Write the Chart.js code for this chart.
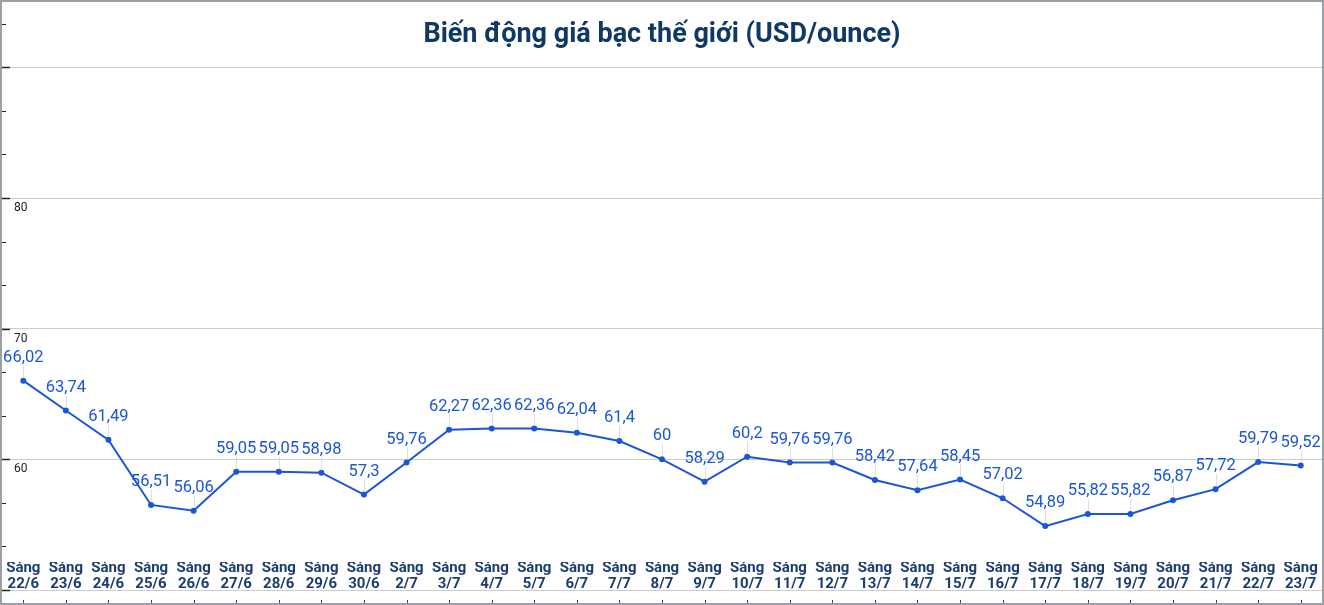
<!DOCTYPE html>
<html>
<head>
<meta charset="utf-8">
<script src="https://cdn.jsdelivr.net/npm/chart.js@4.4.0/dist/chart.umd.min.js"></script>
<style>
  body { margin: 0; background: #fff; }
  #wrap { width: 1320px; height: 601px; border: 2px solid #9aa0a6; background: #fff; }
  canvas { display: block; }
</style>
</head>
<body>
<div id="wrap"><canvas id="myChart" width="1320" height="601"></canvas></div>
<script>
var ngay = ['22/6','23/6','24/6','25/6','26/6','27/6','28/6','29/6','30/6','2/7','3/7','4/7','5/7','6/7','7/7',
            '8/7','9/7','10/7','11/7','12/7','13/7','14/7','15/7','16/7','17/7','18/7','19/7','20/7','21/7','22/7','23/7'];
var giaBac = [66.02,63.74,61.49,56.51,56.06,59.05,59.05,58.98,57.3,59.76,62.27,62.36,62.36,62.04,61.4,
              60,58.29,60.2,59.76,59.76,58.42,57.64,58.45,57.02,54.89,55.82,55.82,56.87,57.72,59.79,59.52];
var yNhan = [60,70,80];
var tieuDe = 'Biến động giá bạc thế giới (USD/ounce)';

var xanh = '#1a56d6';

function laChuc(v){
    return Math.abs(v/10 - Math.round(v/10)) < 1e-6;
}

var veThem = {
    id: 'veThem',
    afterDatasetsDraw: function(chart){
        var ctx = chart.ctx;
        var meta = chart.getDatasetMeta(0);
        ctx.save();
        // nhan gia tri
        ctx.font = '16.5px Roboto';
        ctx.textAlign = 'center';
        ctx.textBaseline = 'middle';
        meta.data.forEach(function(p, i){
            ctx.strokeStyle = '#dedede';
            ctx.lineWidth = 1;
            ctx.beginPath();
            ctx.moveTo(Math.round(p.x)+0.5, p.y - 3);
            ctx.lineTo(Math.round(p.x)+0.5, p.y - 15);
            ctx.stroke();
            ctx.fillStyle = xanh;
            ctx.fillText(String(giaBac[i]).replace('.', ','), p.x, p.y - 23);
        });
        ctx.restore();
    },
    afterDraw: function(chart){
        var ctx = chart.ctx;
        var y = chart.scales.y;
        var x = chart.scales.x;
        var a = chart.chartArea;
        ctx.save();
        // vach truc tung
        ctx.strokeStyle = '#222';
        y.ticks.forEach(function(t){
            var py = Math.round(y.getPixelForValue(t.value)) + 0.5;
            var dai = laChuc(t.value) ? 8 : 4;
            ctx.lineWidth = laChuc(t.value) ? 1.5 : 1;
            ctx.beginPath();
            ctx.moveTo(a.left, py);
            ctx.lineTo(a.left + dai, py);
            ctx.stroke();
        });
        // nhan truc tung
        ctx.fillStyle = '#222';
        ctx.font = '12px Roboto';
        ctx.textAlign = 'left';
        ctx.textBaseline = 'middle';
        yNhan.forEach(function(v){
            ctx.fillText(String(v), a.left + 12, y.getPixelForValue(v) + 10);
        });
        // vach nho duoi truc hoanh
        ctx.fillStyle = '#444';
        x.ticks.forEach(function(t, i){
            var px = Math.round(x.getPixelForTick(i));
            ctx.fillRect(px, a.bottom + 10, 1, 3);
        });
        // tieu de
        ctx.fillStyle = '#0e3866';
        ctx.font = 'bold 27px Roboto';
        ctx.textAlign = 'center';
        ctx.textBaseline = 'middle';
        ctx.fillText(tieuDe, (a.left + a.right) / 2, 33);
        ctx.restore();
    }
};

var canvas = document.getElementById('myChart');
var ctx = canvas.getContext('2d');

var config = {
    type: 'line',
    data: {
        labels: ngay.map(function(d){ return ['Sáng', d]; }),
        datasets: [{
            label: 'Giá bạc',
            data: giaBac,
            borderColor: xanh,
            backgroundColor: xanh,
            borderWidth: 2,
            pointRadius: 2,
            pointHoverRadius: 2,
            tension: 0
        }]
    },
    options: {
        responsive: false,
        animation: false,
        layout: { autoPadding: false, padding: { left: 0, right: 0, top: 0, bottom: 13 } },
        plugins: {
            legend: { display: false },
            title: { display: false },
            tooltip: { enabled: false }
        },
        scales: {
            x: {
                offset: true,
                border: { display: false },
                grid: { display: false, drawTicks: false },
                ticks: {
                    autoSkip: false,
                    maxRotation: 0,
                    padding: -30,
                    color: '#1c3d6e',
                    font: { family: 'Roboto', size: 15, weight: 'bold', lineHeight: 16 / 15 }
                }
            },
            y: {
                min: 50,
                max: 95,
                border: { display: false },
                afterBuildTicks: function(scale){
                    var t = [];
                    for (var k = 0; k <= 13; k++) t.push({ value: 50 + k * 10 / 3 });
                    scale.ticks = t;
                },
                grid: {
                    drawTicks: false,
                    lineWidth: 1,
                    color: function(c){
                        return (c.tick && laChuc(c.tick.value)) ? '#cccccc' : 'rgba(0,0,0,0)';
                    }
                },
                ticks: { display: false }
            }
        }
    },
    plugins: [veThem]
};

window.myLine = new Chart(ctx, config);
</script>
</body>
</html>
